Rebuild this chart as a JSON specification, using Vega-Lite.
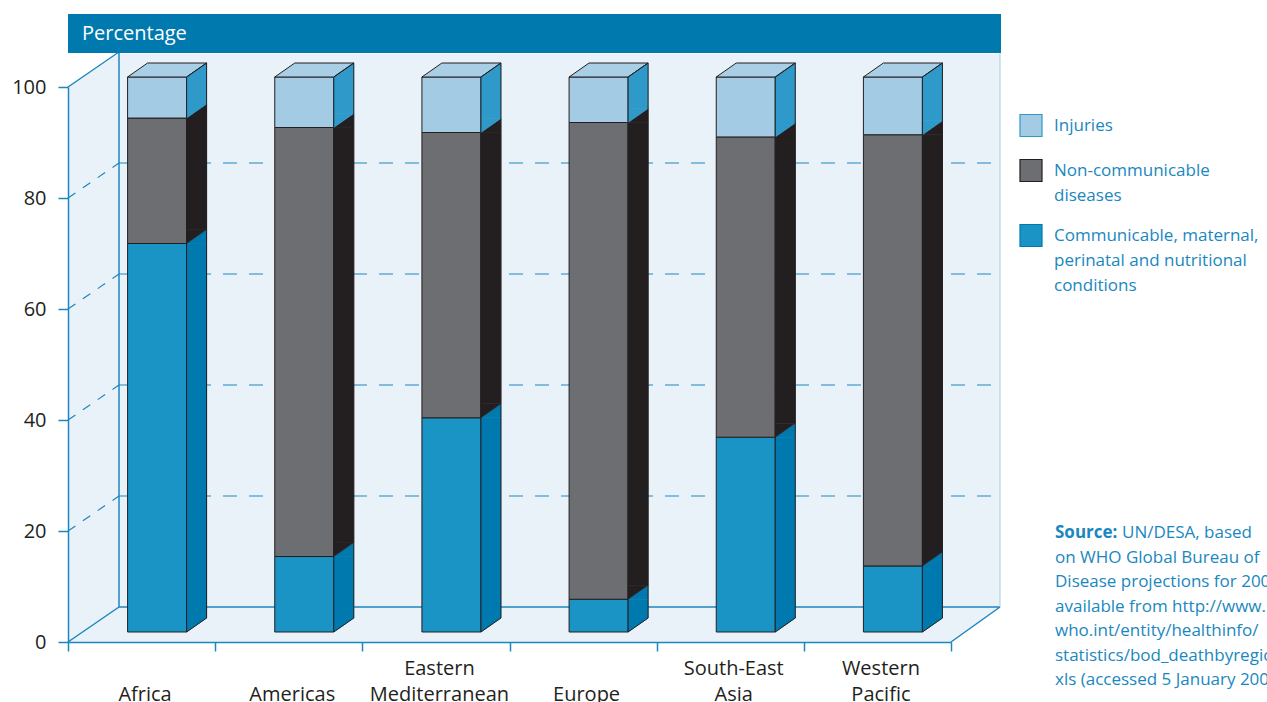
{
  "$schema": "https://vega.github.io/schema/vega-lite/v6.json",
  "width": 883,
  "height": 555,
  "autosize": {"type": "none"},
  "padding": {"left": 68, "top": 87, "right": 316, "bottom": 60},
  "background": "white",
  "config": {
    "view": {"stroke": null},
    "font": "Open Sans",
    "style": {"guide-label": {"lineHeight": 25}}
  },
  "datasets": {
    "deaths": [
      {"region": "Africa", "cause": "Communicable, maternal, perinatal and nutritional conditions", "order": 1, "value": 70.0},
      {"region": "Africa", "cause": "Non-communicable diseases", "order": 2, "value": 22.6},
      {"region": "Africa", "cause": "Injuries", "order": 3, "value": 7.4},
      {"region": "Americas", "cause": "Communicable, maternal, perinatal and nutritional conditions", "order": 1, "value": 13.6},
      {"region": "Americas", "cause": "Non-communicable diseases", "order": 2, "value": 77.3},
      {"region": "Americas", "cause": "Injuries", "order": 3, "value": 9.1},
      {"region": "Eastern Mediterranean", "cause": "Communicable, maternal, perinatal and nutritional conditions", "order": 1, "value": 38.6},
      {"region": "Eastern Mediterranean", "cause": "Non-communicable diseases", "order": 2, "value": 51.4},
      {"region": "Eastern Mediterranean", "cause": "Injuries", "order": 3, "value": 10.0},
      {"region": "Europe", "cause": "Communicable, maternal, perinatal and nutritional conditions", "order": 1, "value": 5.9},
      {"region": "Europe", "cause": "Non-communicable diseases", "order": 2, "value": 85.9},
      {"region": "Europe", "cause": "Injuries", "order": 3, "value": 8.2},
      {"region": "South-East Asia", "cause": "Communicable, maternal, perinatal and nutritional conditions", "order": 1, "value": 35.1},
      {"region": "South-East Asia", "cause": "Non-communicable diseases", "order": 2, "value": 54.1},
      {"region": "South-East Asia", "cause": "Injuries", "order": 3, "value": 10.8},
      {"region": "Western Pacific", "cause": "Communicable, maternal, perinatal and nutritional conditions", "order": 1, "value": 11.9},
      {"region": "Western Pacific", "cause": "Non-communicable diseases", "order": 2, "value": 77.7},
      {"region": "Western Pacific", "cause": "Injuries", "order": 3, "value": 10.4}
    ],
    "gridlines": [{"pct": 20}, {"pct": 40}, {"pct": 60}, {"pct": 80}]
  },
  "layer": [
    {
      "data": {"values": [{}]},
      "layer": [
        {
          "mark": {"type": "point", "filled": true, "opacity": 1, "strokeWidth": 0, "fill": "#eaf2f9", "size": 40000,
                   "shape": "M0,0L0,-5.55L0.51,-5.88L9.32,-5.88L9.32,-0.35L8.83,0Z"},
          "encoding": {
            "x": {"datum": 0, "type": "quantitative", "scale": {"domain": [0, 6]}, "axis": null},
            "y": {"datum": 0, "type": "quantitative"}
          }
        },
        {
          "data": {"name": "gridlines"},
          "mark": {"type": "rule", "color": "#1d86bf", "strokeWidth": 1.2, "strokeDash": [14, 12], "xOffset": 51, "x2Offset": 49, "yOffset": -35},
          "encoding": {
            "x": {"datum": 0, "type": "quantitative", "scale": {"domain": [0, 6]}, "axis": null},
            "x2": {"datum": 6},
            "y": {"field": "pct", "type": "quantitative", "title": null}
          }
        },
        {
          "data": {"name": "gridlines"},
          "mark": {"type": "rule", "color": "#1d86bf", "strokeWidth": 1.2, "strokeDash": [9, 9], "x2Offset": 51, "y2Offset": -35},
          "encoding": {
            "x": {"datum": 0, "type": "quantitative", "scale": {"domain": [0, 6]}, "axis": null},
            "x2": {"datum": 0},
            "y": {"field": "pct", "type": "quantitative", "title": null},
            "y2": {"field": "pct"}
          }
        },
        {
          "mark": {"type": "rule", "color": "#1d86bf", "strokeWidth": 1.5, "x2Offset": 51, "y2Offset": -35},
          "encoding": {
            "x": {"datum": 0, "type": "quantitative", "scale": {"domain": [0, 6]}, "axis": null},
            "x2": {"datum": 0},
            "y": {"datum": 100, "type": "quantitative"},
            "y2": {"datum": 100}
          }
        },
        {
          "mark": {"type": "rule", "color": "#1d86bf", "strokeWidth": 1.5, "x2Offset": 51, "y2Offset": -35},
          "encoding": {
            "x": {"datum": 0, "type": "quantitative", "scale": {"domain": [0, 6]}, "axis": null},
            "x2": {"datum": 0},
            "y": {"datum": 0, "type": "quantitative"},
            "y2": {"datum": 0}
          }
        },
        {
          "mark": {"type": "rule", "color": "#1d86bf", "strokeWidth": 1.5, "xOffset": 51, "yOffset": -35, "y2Offset": -35},
          "encoding": {
            "x": {"datum": 0, "type": "quantitative", "scale": {"domain": [0, 6]}, "axis": null},
            "y": {"datum": 0, "type": "quantitative"},
            "y2": {"datum": 100}
          }
        },
        {
          "mark": {"type": "rule", "color": "#1d86bf", "strokeWidth": 1.5, "xOffset": 51, "x2Offset": 49, "yOffset": -35},
          "encoding": {
            "x": {"datum": 0, "type": "quantitative", "scale": {"domain": [0, 6]}, "axis": null},
            "x2": {"datum": 6},
            "y": {"datum": 0, "type": "quantitative"}
          }
        },
        {
          "mark": {"type": "rule", "color": "#1d86bf", "strokeWidth": 1.5, "x2Offset": 49, "y2Offset": -35},
          "encoding": {
            "x": {"datum": 6, "type": "quantitative", "scale": {"domain": [0, 6]}, "axis": null},
            "x2": {"datum": 6},
            "y": {"datum": 0, "type": "quantitative"},
            "y2": {"datum": 0}
          }
        },
        {
          "mark": {"type": "rule", "color": "#a9cde3", "strokeWidth": 1, "xOffset": 49, "yOffset": -35, "y2Offset": -35},
          "encoding": {
            "x": {"datum": 6, "type": "quantitative", "scale": {"domain": [0, 6]}, "axis": null},
            "y": {"datum": 0, "type": "quantitative"},
            "y2": {"datum": 100}
          }
        }
      ]
    },
    {
      "data": {"name": "deaths"},
      "transform": [
        {"stack": "value", "groupby": ["region"], "sort": [{"field": "order", "order": "ascending"}], "as": ["lo", "hi"]}
      ],
      "layer": [
        {
          "mark": {"type": "bar", "width": 59, "xOffset": 15.5, "yOffset": -10, "y2Offset": -10, "stroke": "#231f20", "strokeWidth": 1},
          "encoding": {
            "x": {
              "field": "region", "type": "nominal", "sort": null,
              "scale": {"type": "band", "paddingInner": 0, "paddingOuter": 0},
              "axis": {
                "title": null, "zindex": 1,
                "domainColor": "#1d86bf", "domainWidth": 1.5,
                "tickColor": "#1d86bf", "tickWidth": 1.5, "tickSize": 9, "tickBand": "extent",
                "labelFontSize": 20, "labelColor": "#231f20", "labelAngle": 0,
                "labelBaseline": "bottom", "labelPadding": 27, "labelLineHeight": 26, "labelOffset": 3,
                "labelLimit": 0, "labelOverlap": false,
                "labelExpr": "datum.value == 'Eastern Mediterranean' ? ['Eastern', 'Mediterranean'] : datum.value == 'South-East Asia' ? ['South-East', 'Asia'] : datum.value == 'Western Pacific' ? ['Western', 'Pacific'] : ['', datum.label]"
              }
            },
            "y": {
              "field": "hi", "type": "quantitative", "title": null,
              "scale": {"domain": [0, 100]},
              "axis": {
                "title": null, "zindex": 1, "values": [0, 20, 40, 60, 80, 100], "grid": false,
                "domainColor": "#1d86bf", "domainWidth": 1.5,
                "tickColor": "#1d86bf", "tickWidth": 1.5, "tickSize": 10,
                "labelFontSize": 20, "labelColor": "#231f20", "labelPadding": 12
              }
            },
            "y2": {"field": "lo"},
            "color": {
              "field": "cause", "type": "nominal",
              "scale": {
                "domain": ["Injuries", "Non-communicable diseases", "Communicable, maternal, perinatal and nutritional conditions"],
                "range": ["#a3cbe3", "#6d6e71", "#1a94c4"]
              },
              "legend": {
                "title": null, "orient": "none", "legendX": 951, "legendY": 19, "padding": 0,
                "symbolType": "M-1,-0.32L1,-0.32L1,1.68L-1,1.68Z", "symbolSize": 484,
                "symbolStrokeColor": "#231f20", "symbolStrokeWidth": 1.2,
                "labelFontSize": 17, "labelColor": "#1a87c0", "labelOffset": 11, "labelLimit": 0,
                "labelBaseline": "top", "rowPadding": 12,
                "labelExpr": "datum.label == 'Non-communicable diseases' ? ['Non-communicable', 'diseases'] : datum.label == 'Injuries' ? 'Injuries' : ['Communicable, maternal,', 'perinatal and nutritional', 'conditions']"
              }
            }
          }
        },
        {
          "mark": {"type": "bar", "width": 20, "xOffset": 55, "yOffset": -10, "y2Offset": -24, "strokeWidth": 0.6},
          "encoding": {
            "x": {"field": "region", "type": "nominal", "sort": null, "scale": {"type": "band", "paddingInner": 0, "paddingOuter": 0}},
            "y": {"field": "hi", "type": "quantitative", "title": null},
            "y2": {"field": "lo"},
            "fill": {
              "field": "cause", "type": "nominal", "legend": null,
              "scale": {
                "domain": ["Injuries", "Non-communicable diseases", "Communicable, maternal, perinatal and nutritional conditions"],
                "range": ["#2f9aca", "#231f20", "#0079ae"]
              }
            },
            "stroke": {
              "field": "cause", "type": "nominal", "legend": null,
              "scale": {
                "domain": ["Injuries", "Non-communicable diseases", "Communicable, maternal, perinatal and nutritional conditions"],
                "range": ["#2f9aca", "#231f20", "#0079ae"]
              }
            }
          }
        },
        {
          "mark": {"type": "point", "filled": true, "opacity": 1, "strokeWidth": 0.6, "size": 400, "xOffset": 55, "yOffset": -17,
                   "shape": "M-1,0.7L1,-0.7L1,0.7Z"},
          "encoding": {
            "x": {"field": "region", "type": "nominal", "sort": null, "scale": {"type": "band", "paddingInner": 0, "paddingOuter": 0}},
            "y": {"field": "hi", "type": "quantitative", "title": null},
            "fill": {"field": "cause", "type": "nominal", "legend": null},
            "stroke": {"field": "cause", "type": "nominal", "legend": null}
          }
        },
        {
          "mark": {"type": "point", "filled": true, "opacity": 1, "strokeWidth": 0.6, "size": 400, "xOffset": 55, "yOffset": -17,
                   "shape": "M-1,-0.7L-1,0.7L1,-0.7Z"},
          "encoding": {
            "x": {"field": "region", "type": "nominal", "sort": null, "scale": {"type": "band", "paddingInner": 0, "paddingOuter": 0}},
            "y": {"field": "lo", "type": "quantitative", "title": null},
            "fill": {"field": "cause", "type": "nominal", "legend": null},
            "stroke": {"field": "cause", "type": "nominal", "legend": null}
          }
        },
        {
          "transform": [{"filter": "datum.cause == 'Injuries'"}],
          "mark": {"type": "point", "filled": true, "opacity": 1, "fill": "#a9cfe6", "stroke": "#231f20", "strokeWidth": 1, "size": 400,
                   "xOffset": 25.5, "yOffset": -17, "shape": "M-3.95,0.7L1.95,0.7L3.95,-0.7L-1.95,-0.7Z"},
          "encoding": {
            "x": {"field": "region", "type": "nominal", "sort": null, "scale": {"type": "band", "paddingInner": 0, "paddingOuter": 0}},
            "y": {"field": "hi", "type": "quantitative", "title": null}
          }
        },
        {
          "transform": [{"filter": "datum.cause == 'Injuries'"}],
          "mark": {"type": "point", "filled": false, "opacity": 1, "stroke": "#231f20", "strokeWidth": 1, "size": 400,
                   "xOffset": 55, "yOffset": -17, "shape": "M-1,28.45L1,27.05L1,-28.45L-1,-27.05Z"},
          "encoding": {
            "x": {"field": "region", "type": "nominal", "sort": null, "scale": {"type": "band", "paddingInner": 0, "paddingOuter": 0}},
            "y": {"datum": 50, "type": "quantitative"}
          }
        }
      ]
    },
    {
      "data": {"values": [{}]},
      "layer": [
        {
          "mark": {"type": "rect", "fill": "#0079af", "x2Offset": 50, "yOffset": -73, "y2Offset": -34},
          "encoding": {
            "x": {"datum": 0, "type": "quantitative", "scale": {"domain": [0, 6]}, "axis": null},
            "x2": {"datum": 6},
            "y": {"datum": 100, "type": "quantitative"},
            "y2": {"datum": 100}
          }
        },
        {
          "mark": {"type": "text", "text": "Percentage", "color": "white", "fontSize": 20, "align": "left", "baseline": "middle", "xOffset": 14, "yOffset": -53},
          "encoding": {
            "x": {"datum": 0, "type": "quantitative", "scale": {"domain": [0, 6]}, "axis": null},
            "y": {"datum": 100, "type": "quantitative"}
          }
        },
        {
          "mark": {"type": "text", "text": "Source:", "color": "#1a87c0", "fontSize": 17, "fontWeight": "bold", "align": "left", "baseline": "alphabetic", "xOffset": 104, "yOffset": -104},
          "encoding": {
            "x": {"datum": 6, "type": "quantitative", "scale": {"domain": [0, 6]}, "axis": null},
            "y": {"datum": 0, "type": "quantitative"}
          }
        },
        {
          "mark": {"type": "text", "text": "UN/DESA, based", "color": "#1a87c0", "fontSize": 17, "align": "left", "baseline": "alphabetic", "xOffset": 171, "yOffset": -104},
          "encoding": {
            "x": {"datum": 6, "type": "quantitative", "scale": {"domain": [0, 6]}, "axis": null},
            "y": {"datum": 0, "type": "quantitative"}
          }
        },
        {
          "mark": {"type": "text", "color": "#1a87c0", "fontSize": 17, "align": "left", "baseline": "alphabetic", "lineHeight": 24.5, "xOffset": 104, "yOffset": -79.5,
                   "text": ["on WHO Global Bureau of", "Disease projections for 2002,", "available from http://www.", "who.int/entity/healthinfo/", "statistics/bod_deathbyregion.", "xls (accessed 5 January 2007)."]},
          "encoding": {
            "x": {"datum": 6, "type": "quantitative", "scale": {"domain": [0, 6]}, "axis": null},
            "y": {"datum": 0, "type": "quantitative"}
          }
        }
      ]
    }
  ],
  "resolve": {"scale": {"x": "independent", "fill": "independent"}, "axis": {"x": "independent"}}
}
